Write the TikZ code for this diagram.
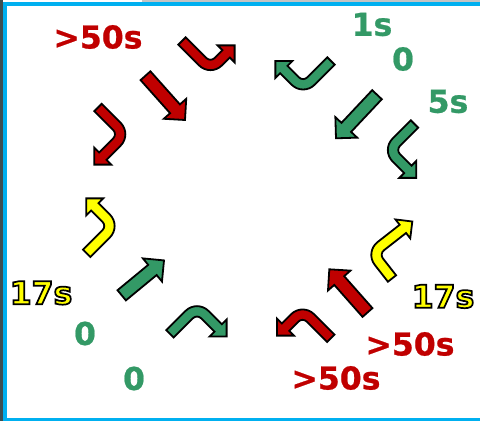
\documentclass[tikz,border=0pt]{standalone}
\usepackage{fontspec}
\setmainfont{DejaVu Sans}
\newfontfamily\heavyfont{DejaVu Sans Bold}[FakeBold=0.7]
\usetikzlibrary{calc}
\definecolor{sigred}{HTML}{C00000}
\definecolor{siggreen}{HTML}{339966}
\definecolor{sigyellow}{HTML}{FFFF00}
\definecolor{framebl}{HTML}{00B0F0}
\definecolor{photogrey}{HTML}{3E4F52}
\definecolor{lightgrey}{HTML}{C4C4C4}

% sizes of the arrows (1 unit = 1pt)
\newcommand\turnw{5.2}
\newcommand\turnr{11}
\newcommand\turnh{12}
\newcommand\shaftw{6.6pt}
\newcommand\headw{15pt}
\newcommand\headl{15pt}

% turning arrow: colour, tail, heading (clockwise from east), side (1 right, -1 left), first leg, second leg
\newcommand\turnarrow[6]{%
  \begin{scope}[shift={#2}, rotate={-#3}, yscale={#4}]
    \pgfmathsetmacro\ro{\turnr+\turnw}
    \pgfmathsetmacro\ri{\turnr-\turnw}
    \draw[arrowline, fill=#1] (0,-\turnw) -- (#5,-\turnw)
      .. controls ({#5+0.552*\ro},-\turnw) and ({#5+\ro},{\turnr-0.552*\ro}) .. ({#5+\ro},\turnr)
      -- ({#5+\ro},{\turnr+#6}) -- ({#5+\turnr+\turnh},{\turnr+#6})
      -- ({#5+\turnr},{\turnr+#6+\turnh}) -- ({#5+\turnr-\turnh},{\turnr+#6})
      -- ({#5+\ri},{\turnr+#6}) -- ({#5+\ri},\turnr)
      .. controls ({#5+\ri},{\turnr-0.552*\ri}) and ({#5+0.552*\ri},\turnw) .. (#5,\turnw)
      -- (0,\turnw) -- cycle;
  \end{scope}}

% straight arrow: colour, tail, tip
\newcommand\straightarrow[3]{%
  \coordinate (#2base) at ($(#3)!\headl!(#2)$);
  \draw[arrowline, fill=#1] ($(#2)!\shaftw!90:(#3)$) -- ($(#2base)!\shaftw!90:(#3)$)
    -- ($(#2base)!\headw!90:(#3)$) -- (#3) -- ($(#2base)!\headw!-90:(#3)$)
    -- ($(#2base)!\shaftw!-90:(#3)$) -- ($(#2)!\shaftw!-90:(#3)$) -- cycle;}

% yellow figures with a black rim
\newcommand\rimtext[1]{\special{pdf:literal direct 2 Tr 1.7 w 0 0 0 RG}#1\special{pdf:literal direct 0 Tr}}

\begin{document}
\begin{tikzpicture}[x=1pt, y=-1pt,
  arrowline/.style={draw=black, line width=1.8pt},
  sig/.style={font=\fontsize{31.5}{34}\selectfont\heavyfont, inner sep=0pt},
  rim/.style={font=\fontsize{31.5}{34}\selectfont\bfseries, inner sep=0pt, text=sigyellow},
  frame/.style={draw=framebl, line width=3.6pt},
]
  \useasboundingbox (0,0) rectangle (480,421);
  \clip (0,0) rectangle (480,421);
  % photo behind the frame
  \fill[photogrey] (0,0) rectangle (3.4,421);
  \fill[lightgrey] (142,0) rectangle (480,1.9);
  \draw[frame] (5,3.8) rectangle (490,420);

  % top left
  \turnarrow{sigred}{(182,41)}{45}{-1}{29.3}{11.1}
  \turnarrow{sigred}{(98,107.5)}{45}{1}{26.8}{20}
  \coordinate (tlT) at (145.5,75.7);
  \coordinate (tlP) at (185,120);
  \straightarrow{sigred}{tlT}{tlP}

  % top right
  \turnarrow{siggreen}{(331,61)}{135}{1}{28.4}{16.3}
  \turnarrow{siggreen}{(414.5,124)}{135}{-1}{25.8}{16.4}
  \coordinate (trT) at (377,94.7);
  \coordinate (trP) at (336,138.3);
  \straightarrow{siggreen}{trT}{trP}

  % bottom left
  \turnarrow{sigyellow}{(86.7,253.3)}{-45}{-1}{27.6}{16.1}
  \turnarrow{siggreen}{(170,333.8)}{-45}{1}{27.2}{18.9}
  \coordinate (blT) at (121.7,295.3);
  \coordinate (blP) at (164,260.4);
  \straightarrow{siggreen}{blT}{blP}

  % bottom right
  \turnarrow{sigyellow}{(392,278.5)}{232}{1}{21.4}{28.1}
  \turnarrow{sigred}{(330.8,338.3)}{225}{-1}{28.9}{13.1}
  \coordinate (brT) at (367.5,312.5);
  \coordinate (brP) at (329.3,269.3);
  \straightarrow{sigred}{brT}{brP}

  % timings
  \node[sig, text=sigred] (tlTime) at (98,37) {>50s};
  \node[sig, text=siggreen] (trTimeA) at (372,24.5) {1s};
  \node[sig, text=siggreen] (trTimeB) at (403,59) {0};
  \node[sig, text=siggreen] (trTimeC) at (448,101.5) {5s};
  \node[rim] (blTimeA) at (41,293) {\rimtext{17s}};
  \node[sig, text=siggreen] (blTimeB) at (85,333.5) {0};
  \node[sig, text=siggreen] (blTimeC) at (134,378.5) {0};
  \node[rim] (brTimeA) at (443,296.5) {\rimtext{17s}};
  \node[sig, text=sigred] (brTimeB) at (410,344) {>50s};
  \node[sig, text=sigred] (brTimeC) at (336,378) {>50s};
\end{tikzpicture}
\end{document}
